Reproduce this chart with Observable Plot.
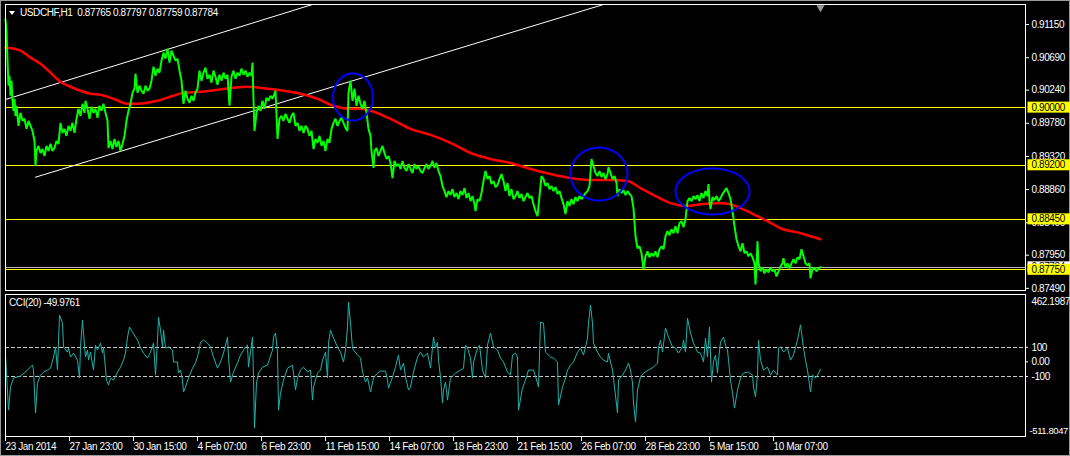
<!DOCTYPE html>
<html>
<head>
<meta charset="utf-8">
<script src="https://cdn.jsdelivr.net/npm/d3@7"></script>
<script src="https://cdn.jsdelivr.net/npm/@observablehq/plot@0.6"></script>
<style>
  html, body { margin: 0; padding: 0; background: #000; }
  #chart { position: relative; width: 1070px; height: 456px; background: #000; overflow: hidden;
           box-shadow: inset 0 0 0 1px #9a9a9a; font-family: "Liberation Sans", Arial, sans-serif; }
  #main, #cci { position: absolute; left: 0; }
  #main { top: 0; }
  #cci { top: 292px; }
  .lbl { position: absolute; color: #fff; font-size: 10px; line-height: 12px; letter-spacing: -0.4px; white-space: pre; }
  .tri { position: absolute; width: 0; height: 0; border-left: 3.5px solid transparent; border-right: 3.5px solid transparent; border-top: 4px solid #fff; }
</style>
</head>
<body>
<div id="chart">
  <div id="main"></div>
  <div id="cci"></div>
  <div class="tri" style="left:9px; top:11px;"></div>
  <div class="lbl" style="left:20px; top:7px;">USDCHF,H1  0.87765 0.87797 0.87759 0.87784</div>
  <div class="lbl" style="left:9px; top:297px;">CCI(20) -49.9761</div>
</div>
<script>
// ---------------- data ----------------
const tickBars = [0, 64, 128, 192, 256, 320, 384, 448, 512, 576, 640, 704, 768];
const tickLabels = ["23 Jan 2014", "27 Jan 23:00", "30 Jan 15:00", "4 Feb 07:00", "6 Feb 23:00", "11 Feb 15:00",
  "14 Feb 07:00", "18 Feb 23:00", "21 Feb 15:00", "26 Feb 07:00", "28 Feb 23:00", "5 Mar 15:00", "10 Mar 07:00"];
const priceTicks = [0.9115, 0.9069, 0.9024, 0.8978, 0.8932, 0.8886, 0.8840, 0.8795, 0.8749];
const levels = [0.9000, 0.8920, 0.8845, 0.8775];
const bidPrice = 0.87784;
const cciTicks = [100, 0, -100];
const cciRange = [-511.8047, 462.1987];
const lastBar = 815;

// close prices (bar index, price)
const closeSeries = [
[0,.91220],[1,.91067],[2,.90649],[3,.90301],[4,.90440],[5,.90162],[6,.90371],[7,.90092],[8,.89953],[9,.90120],[10,.89883],[11,.90023],[13,.89744],[15,.89925],[17,.89814],[19,.89842],[21,.89702],[23,.89814],[25,.89744],[27,.89675],[29,.89535],[30,.89187],[31,.89396],[33,.89466],[35,.89368],[37,.89424],[39,.89327],[41,.89466],[43,.89396],[45,.89494],[47,.89396],[49,.89438],[51,.89535],[53,.89494],[55,.89786],[57,.89647],[59,.89702],[61,.89605],[63,.89744],[65,.89675],[67,.89786],[69,.89647],[71,.89842],[73,.89981],[75,.89883],[77,.90050],[79,.89925],[80,.90092],[82,.89981],[84,.89842],[86,.90009],[88,.89925],[90,.89981],[92,.89856],[94,.90023],[96,.89953],[98,.90050],[100,.89925],[102,.89814],[103,.89438],[105,.89535],[107,.89424],[109,.89563],[111,.89452],[113,.89535],[115,.89396],[117,.89494],[119,.89605],[121,.89814],[123,.89953],[125,.90050],[127,.90204],[129,.90259],[130,.90468],[132,.90204],[134,.90301],[136,.90231],[138,.90190],[140,.90301],[142,.90231],[144,.90259],[146,.90371],[148,.90565],[150,.90440],[152,.90538],[154,.90482],[156,.90649],[158,.90760],[160,.90677],[162,.90816],[164,.90621],[166,.90788],[168,.90719],[170,.90649],[172,.90677],[174,.90510],[176,.90371],[178,.90050],[180,.90231],[182,.90120],[184,.90064],[186,.90162],[188,.90092],[190,.90204],[192,.90259],[194,.90510],[196,.90371],[198,.90482],[200,.90552],[202,.90398],[204,.90454],[206,.90343],[208,.90510],[210,.90426],[212,.90315],[214,.90454],[216,.90371],[218,.90482],[220,.90398],[222,.90454],[224,.90023],[226,.90426],[228,.90510],[230,.90398],[232,.90482],[234,.90440],[236,.90538],[238,.90454],[240,.90510],[242,.90426],[244,.90482],[246,.90440],[247,.90621],[248,.90092],[249,.89675],[251,.89925],[253,.90023],[255,.89953],[257,.90092],[259,.89981],[261,.90134],[263,.90092],[265,.90162],[267,.90120],[269,.90190],[270,.90231],[272,.89563],[274,.89842],[276,.89883],[278,.89814],[280,.89911],[282,.89842],[284,.89786],[286,.89883],[288,.89925],[290,.89744],[292,.89786],[294,.89675],[296,.89744],[298,.89647],[300,.89744],[302,.89702],[304,.89605],[306,.89675],[308,.89424],[310,.89563],[312,.89508],[314,.89605],[316,.89466],[318,.89535],[320,.89396],[322,.89563],[324,.89508],[326,.89702],[328,.89786],[330,.89842],[332,.89744],[334,.89814],[336,.89856],[338,.89786],[340,.89716],[342,.89675],[343,.90204],[345,.90371],[347,.90092],[349,.90259],[351,.90023],[353,.90162],[355,.90050],[357,.89981],[359,.90092],[361,.89925],[363,.89702],[365,.89605],[366,.89396],[368,.89160],[369,.89396],[371,.89438],[373,.89327],[375,.89396],[377,.89466],[379,.89368],[381,.89285],[383,.89327],[385,.89229],[387,.89020],[389,.89257],[391,.89187],[393,.89215],[395,.89146],[397,.89257],[399,.89160],[401,.89118],[403,.89215],[405,.89146],[407,.89090],[409,.89215],[411,.89146],[413,.89187],[415,.89118],[417,.89090],[419,.89160],[421,.89215],[423,.89146],[425,.89187],[427,.89257],[429,.89160],[431,.89229],[433,.89118],[435,.89048],[437,.88909],[439,.88839],[441,.88756],[443,.88839],[445,.88784],[447,.88867],[449,.88756],[451,.88812],[453,.88728],[455,.88839],[457,.88784],[459,.88881],[461,.88742],[463,.88812],[465,.88700],[467,.88770],[469,.88658],[470,.88561],[472,.88728],[474,.88700],[476,.88812],[478,.88979],[480,.89118],[482,.89006],[484,.89048],[486,.88937],[488,.88979],[490,.88895],[492,.88923],[494,.89006],[496,.89076],[498,.88979],[500,.88839],[502,.88951],[504,.88770],[506,.88867],[508,.88728],[510,.88770],[512,.88839],[514,.88742],[516,.88798],[518,.88700],[520,.88756],[522,.88812],[524,.88742],[526,.88770],[528,.88658],[530,.88561],[532,.88491],[534,.88770],[536,.89048],[538,.89006],[540,.88909],[542,.88951],[544,.88867],[546,.88909],[548,.88839],[550,.88895],[552,.88798],[554,.88839],[556,.88742],[558,.88658],[560,.88519],[562,.88700],[564,.88631],[566,.88728],[568,.88658],[570,.88756],[572,.88700],[574,.88770],[576,.88728],[578,.88770],[580,.88812],[582,.88839],[584,.88909],[586,.89285],[588,.89187],[590,.89090],[592,.89048],[594,.89118],[596,.89034],[598,.89090],[600,.89006],[602,.89076],[603,.89173],[605,.89090],[607,.89006],[609,.89048],[611,.88951],[612,.88770],[614,.88867],[616,.88812],[618,.88853],[620,.88784],[622,.88839],[624,.88798],[626,.88770],[628,.88603],[630,.88213],[632,.88046],[634,.88074],[636,.87976],[638,.87754],[640,.87935],[642,.88004],[644,.87921],[646,.87976],[648,.87935],[650,.88004],[652,.87921],[654,.88032],[656,.88074],[658,.88032],[660,.88213],[662,.88283],[664,.88227],[666,.88310],[668,.88255],[670,.88352],[672,.88255],[674,.88394],[676,.88422],[678,.88338],[680,.88450],[682,.88700],[684,.88742],[686,.88700],[688,.88770],[690,.88728],[692,.88784],[694,.88700],[696,.88812],[698,.88742],[700,.88839],[702,.88770],[703,.88937],[704,.88700],[705,.88589],[707,.88756],[709,.88714],[711,.88770],[713,.88700],[715,.88742],[717,.88798],[719,.88839],[721,.88881],[723,.88812],[725,.88728],[727,.88561],[729,.88352],[731,.88171],[733,.88074],[735,.88004],[737,.88116],[739,.87976],[741,.88004],[743,.87935],[745,.87976],[747,.87921],[749,.87837],[750,.87545],[751,.87795],[752,.88143],[753,.87837],[755,.87726],[757,.87781],[759,.87698],[761,.87754],[763,.87712],[765,.87781],[767,.87726],[769,.87754],[771,.87656],[773,.87726],[775,.87795],[777,.87837],[778,.87907],[780,.87781],[782,.87837],[784,.87768],[786,.87837],[788,.87893],[790,.87837],[792,.87921],[794,.87893],[796,.88032],[798,.87935],[800,.87837],[802,.87809],[804,.87837],[805,.87628],[807,.87754],[809,.87781],[811,.87726],[813,.87768],[815,.87784]
];

// red moving average (bar index, value)
const maSeries = [
[0,.90830],[15,.90788],[25,.90691],[35,.90607],[45,.90482],[55,.90357],[65,.90287],[75,.90231],[85,.90190],[95,.90176],[108,.90120],[122,.90050],[132,.90050],[152,.90092],[168,.90162],[178,.90204],[195,.90217],[212,.90245],[228,.90273],[242,.90287],[262,.90259],[278,.90231],[295,.90190],[312,.90120],[328,.90023],[345,.89981],[355,.89981],[365,.89953],[385,.89842],[405,.89702],[425,.89619],[445,.89508],[465,.89368],[485,.89285],[505,.89229],[525,.89146],[545,.89076],[565,.89020],[585,.88992],[605,.88992],[622,.88979],[635,.88881],[652,.88756],[665,.88673],[682,.88631],[695,.88658],[715,.88672],[725,.88658],[735,.88603],[752,.88491],[762,.88422],[775,.88324],[795,.88255],[815,.88171]
];

// CCI(20) (bar index, value)
const cciSeries = [
[0,47],[3,-331],[5,-173],[8,-111],[15,-97],[22,-56],[27,-22],[28,-56],[30,-351],[32,-145],[35,-91],[38,-70],[42,-56],[45,-43],[48,33],[50,102],[52,-56],[54,321],[57,266],[58,102],[62,67],[63,95],[65,33],[68,60],[72,12],[74,-111],[75,102],[77,287],[78,198],[80,33],[82,81],[83,12],[85,67],[88,-56],[90,115],[92,81],[95,129],[97,60],[98,102],[101,-125],[103,-159],[105,-111],[108,-125],[112,-70],[115,-36],[118,12],[120,60],[122,170],[124,239],[127,204],[130,170],[132,150],[135,95],[138,60],[142,26],[145,67],[148,129],[150,-91],[152,150],[153,307],[155,218],[157,102],[158,218],[160,95],[163,102],[167,81],[168,-1],[172,-1],[173,-77],[175,-56],[177,-125],[178,-207],[180,-173],[183,-111],[187,-43],[190,-8],[193,60],[195,136],[198,150],[202,129],[205,102],[208,33],[212,-43],[215,-1],[218,60],[222,170],[223,33],[225,-139],[228,-70],[232,-8],[235,47],[240,102],[242,115],[243,-36],[247,170],[248,-104],[249,-454],[251,-145],[253,-77],[257,-36],[262,-22],[267,81],[268,170],[270,198],[272,67],[273,-331],[275,-214],[278,-125],[282,-43],[287,-22],[288,-77],[290,-193],[292,-111],[295,-56],[298,-36],[302,-70],[305,-56],[307,-262],[308,-173],[312,-77],[315,-56],[317,12],[320,67],[322,-111],[323,129],[325,218],[328,163],[332,102],[335,67],[338,-1],[340,81],[342,239],[343,410],[345,266],[347,95],[348,81],[352,47],[355,26],[357,-70],[360,-139],[362,-111],[365,-207],[368,-111],[372,-77],[375,-63],[380,-63],[382,-125],[383,-180],[387,-104],[390,-36],[393,47],[395,-56],[398,-8],[400,-104],[403,-193],[405,-173],[408,-70],[412,33],[415,67],[418,33],[422,60],[425,-43],[428,170],[430,95],[432,136],[433,12],[435,-104],[437,-282],[438,-193],[440,-139],[442,-262],[445,-111],[450,-77],[455,-56],[458,-43],[460,115],[462,95],[465,26],[467,-111],[468,-1],[472,95],[474,115],[477,-56],[480,-111],[482,115],[485,198],[488,102],[492,81],[495,26],[498,-1],[502,-70],[505,-91],[507,47],[510,60],[512,33],[513,-331],[517,-180],[520,-125],[523,-56],[528,-56],[532,-145],[533,-173],[535,273],[538,266],[540,67],[545,33],[548,26],[552,-1],[553,-296],[557,-173],[560,-111],[562,-56],[565,-22],[568,-1],[572,67],[575,95],[578,47],[580,102],[582,163],[583,266],[585,390],[587,266],[588,129],[592,67],[595,33],[598,12],[602,-1],[603,60],[605,-1],[607,-56],[609,-173],[612,-351],[613,-125],[617,-91],[620,-56],[623,-8],[625,-56],[627,-145],[628,-282],[630,-413],[632,-193],[635,-104],[638,-77],[643,-56],[648,-36],[652,-8],[653,95],[655,150],[657,67],[660,232],[663,170],[667,102],[670,95],[673,60],[677,102],[678,150],[680,67],[682,300],[685,198],[688,129],[692,67],[695,60],[698,-1],[700,163],[702,33],[704,239],[706,-139],[708,-1],[710,47],[712,-77],[713,12],[715,136],[718,170],[720,115],[722,81],[723,12],[725,-125],[727,-214],[729,-317],[732,-193],[735,-111],[738,-77],[743,-70],[747,-91],[748,-173],[750,-241],[752,-91],[753,150],[755,12],[758,-56],[762,-36],[765,-91],[768,-56],[772,-91],[773,95],[775,102],[778,67],[782,95],[785,12],[788,47],[792,150],[793,184],[795,254],[797,150],[798,95],[800,12],[802,-56],[805,-207],[807,-91],[810,-111],[812,-91],[815,-49.9761]
];

// trend channel lines (bar index, price)
const upperTrend = [[0, 0.90110], [307, 0.91428]];
const lowerTrend = [[30, 0.89032], [598, 0.91428]];

// blue ellipses: centre bar, centre price, half-width (bars), half-height (price)
const ellipseBar = [347.5, 593.5, 707];
const ellipsePrice = [0.90145, 0.89076, 0.88834];
const ellipseHalfBars = [20, 28.5, 37];
const ellipseHalfPrice = [0.00326, 0.00368, 0.00319];

// ---------------- drawing ----------------
const FONT = '"Liberation Sans", Arial, sans-serif';
const baseStyle = {background: "transparent", color: "#ffffff", fontFamily: FONT, fontSize: "10px", letterSpacing: "-0.4px", overflow: "visible"};
const fmt5 = d3.format(".5f");

const ellipsePts = [];
ellipseBar.forEach((cx, k) => {
  for (let s = 0; s < 72; s++) {
    const t = (s / 72) * 2 * Math.PI;
    ellipsePts.push({k, x: cx + ellipseHalfBars[k] * Math.cos(t), y: ellipsePrice[k] + ellipseHalfPrice[k] * Math.sin(t)});
  }
});

const mainPlot = Plot.plot({
  width: 1070, height: 292,
  marginLeft: 5, marginRight: 45, marginTop: 4, marginBottom: 2,
  style: baseStyle,
  x: {domain: [0, 1020], axis: null},
  y: {domain: [0.87460, 0.91428], axis: null},
  marks: [
    Plot.ruleY(levels, {stroke: "#ffff00", strokeWidth: 1, shapeRendering: "crispEdges"}),
    Plot.ruleY([bidPrice], {stroke: "#b4b4b4", strokeWidth: 1, shapeRendering: "crispEdges"}),
    Plot.line(upperTrend, {x: d => d[0], y: d => d[1], stroke: "#ffffff", strokeWidth: 1}),
    Plot.line(lowerTrend, {x: d => d[0], y: d => d[1], stroke: "#ffffff", strokeWidth: 1}),
    Plot.line(maSeries, {x: d => d[0], y: d => d[1], stroke: "#ff0000", strokeWidth: 2.5, curve: "monotone-x"}),
    Plot.line(closeSeries, {x: d => d[0], y: d => d[1], stroke: "#00ff00", strokeWidth: 2, strokeLinejoin: "miter"}),
    Plot.line(ellipsePts, {x: "x", y: "y", z: "k", stroke: "#0000ff", strokeWidth: 2, curve: "linear-closed"}),
    Plot.frame({stroke: "#ffffff"}),
    Plot.axisY(priceTicks, {anchor: "right", label: null, tickSize: 3, tickPadding: 3, tickFormat: fmt5, fill: "#ffffff", stroke: "#ffffff"}),
    Plot.text([bidPrice], {y: d => d, frameAnchor: "right", dx: 6, textAnchor: "start", text: fmt5, fill: "#000000"}),
    Plot.text(levels, {y: d => d, frameAnchor: "right", dx: 6, textAnchor: "start", text: fmt5, fill: "#000000"}),
    Plot.dot([lastBar], {x: d => d, frameAnchor: "top", symbol: "triangle", rotate: 180, r: 3, fill: "#9a9a9a", dy: 3})
  ]
});
document.getElementById("main").append(mainPlot);

// put a coloured box behind each black price label (the bid label in white, the levels in yellow)
function boxLabels(svg) {
  const bidText = fmt5(bidPrice);
  const levelTexts = new Set(levels.map(fmt5));
  Array.from(svg.querySelectorAll("text")).forEach(t => {
    const fill = getComputedStyle(t).fill;
    if (fill !== "rgb(0, 0, 0)") return;
    const s = t.textContent;
    let color = null;
    if (s === bidText) color = "#ffffff";
    else if (levelTexts.has(s)) color = "#ffff00";
    if (!color) return;
    const b = t.getBBox();
    const cy = b.y + b.height / 2;
    const r = document.createElementNS("http://www.w3.org/2000/svg", "rect");
    r.setAttribute("x", b.x - 4);
    r.setAttribute("y", cy - 5.5);
    r.setAttribute("width", 44);
    r.setAttribute("height", 11);
    r.setAttribute("fill", color);
    r.setAttribute("stroke", "none");
    const tr = t.getAttribute("transform");
    if (tr) r.setAttribute("transform", tr);
    t.parentNode.insertBefore(r, t);
  });
}
boxLabels(mainPlot);

const tickLabelOf = new Map(tickBars.map((b, i) => [b, tickLabels[i]]));

const cciPlot = Plot.plot({
  width: 1070, height: 164,
  marginLeft: 5, marginRight: 45, marginTop: 2, marginBottom: 20,
  style: baseStyle,
  x: {domain: [0, 1020], axis: null},
  y: {domain: cciRange, axis: null},
  marks: [
    Plot.ruleY([100, -100], {stroke: "#c8c8c8", strokeDasharray: "4,2", shapeRendering: "crispEdges"}),
    Plot.line(cciSeries, {x: d => d[0], y: d => d[1], stroke: "#20b2aa", strokeWidth: 1}),
    Plot.frame({stroke: "#ffffff"}),
    Plot.axisY(cciTicks, {anchor: "right", label: null, tickSize: 2, tickPadding: 4, tickFormat: d => d === 0 ? "0.00" : String(d), fill: "#ffffff", stroke: "#ffffff"}),
    Plot.text([cciRange[1]], {y: d => d, frameAnchor: "right", dx: 6, dy: 7, textAnchor: "start", text: d => d.toFixed(4), fill: "#ffffff"}),
    Plot.text([cciRange[0]], {y: d => d, frameAnchor: "right", dx: 4, dy: -6, textAnchor: "start", text: d => d.toFixed(4), fill: "#ffffff", fontSize: 9.5}),
    Plot.axisX(tickBars, {anchor: "bottom", label: null, tickSize: 5, tickPadding: 1.5, textAnchor: "start", tickFormat: d => tickLabelOf.get(d), fill: "#ffffff", stroke: "#ffffff"})
  ]
});
document.getElementById("cci").append(cciPlot);
</script>
</body>
</html>
